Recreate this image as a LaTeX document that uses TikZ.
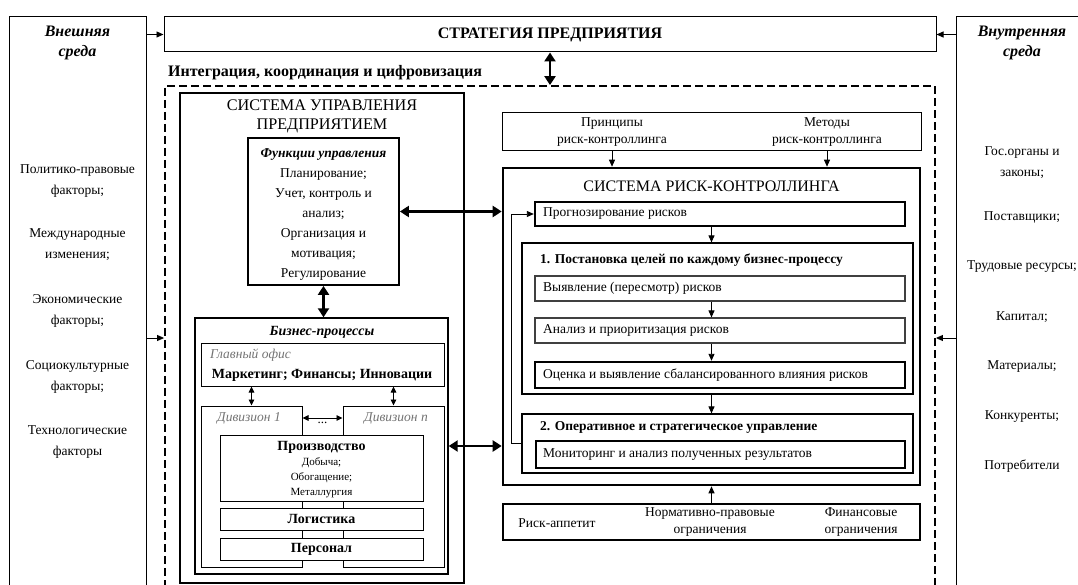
\documentclass[tikz,border=0pt]{standalone}
\usepackage{fontspec}
\setmainfont{Liberation Serif}
\usetikzlibrary{arrows.meta,fit}

\tikzset{
  boxline/.style={draw, inner sep=0pt, line width=#1},
  boxline/.default=1pt,
  txt/.style={inner sep=0pt, align=center, font=\fontsize{13.5}{21}\selectfont},
  ttl/.style={inner sep=0pt, align=center, font=\fontsize{16}{20}\selectfont\bfseries\itshape},
  lft/.style={inner sep=0pt, anchor=west, font=\fontsize{13.5}{16}\selectfont},
  bold/.style={inner sep=0pt, font=\fontsize{14}{16}\selectfont\bfseries},
  greylab/.style={inner sep=0pt, text=black!55, font=\fontsize{13.5}{16}\selectfont\itshape},
  arr/.style={-{Triangle[length=7pt,width=6pt]}, line width=.9pt},
  twotip/.style={{Triangle[length=6pt,width=5.5pt]}-{Triangle[length=6pt,width=5.5pt]}, line width=.9pt},
  fat/.style={{Triangle[length=9pt,width=11pt]}-{Triangle[length=9pt,width=11pt]}, line width=2.4pt},
}

\begin{document}
\begin{tikzpicture}[x=1pt,y=-1pt]
\useasboundingbox (0,0) rectangle (1078,585);
\clip (0,0) rectangle (1078,585);

% environment and strategy
\node[boxline, fit={(9,17) (146,659)}] (ext) {};
\node[boxline, fit={(956,17) (1088,659)}] (int) {};
\node[boxline, fit={(164,17) (936,52)}] (strat) {};
\node[font=\fontsize{16}{18}\selectfont\bfseries, inner sep=0pt] (strattxt) at (550,35) {СТРАТЕГИЯ ПРЕДПРИЯТИЯ};
\node[boxline=1.8pt, dash pattern=on 8pt off 4pt, fit={(165,86) (935,620)}] (integ) {};
\node[lft, font=\fontsize{16}{18}\selectfont\bfseries] (integtxt) at (168,73) {Интеграция, координация и цифровизация};

\node[ttl] (extttl) at (77.5,43) {Внешняя\\среда};
\node[txt] (pol) at (77.5,181) {Политико-правовые\\факторы;};
\node[txt] (intl) at (77.5,245) {Международные\\изменения;};
\node[txt] (econ) at (77.5,311) {Экономические\\факторы;};
\node[txt] (soc) at (77.5,377) {Социокультурные\\факторы;};
\node[txt] (tech) at (77.5,442) {Технологические\\факторы};

\node[ttl] (intttl) at (1022,43) {Внутренняя\\среда};
\node[txt] (gov) at (1022,163) {Гос.органы и\\законы;};
\node[txt] (supp) at (1022,217) {Поставщики;};
\node[txt] (lab) at (1022,267) {Трудовые ресурсы;};
\node[txt] (cap) at (1022,317) {Капитал;};
\node[txt] (mat) at (1022,367) {Материалы;};
\node[txt] (comp) at (1022,417) {Конкуренты;};
\node[txt] (cons) at (1022,466) {Потребители};

\draw[arr] (strat.west -| ext.east) -- (strat.west);
\draw[arr] (strat.east -| int.west) -- (strat.east);
\draw[arr] (ext.east) -- (ext.east -| integ.west);
\draw[arr] (int.west) -- (int.west -| integ.east);
\draw[fat] (strat.south) -- (strat.south |- integ.north);

% management system
\node[boxline=2.6pt, fit={(180,93) (464,583)}] (mgmt) {};
\node[txt, font=\fontsize{16.2}{19}\selectfont] (mgmtttl) at (322,116) {СИСТЕМА УПРАВЛЕНИЯ\\ПРЕДПРИЯТИЕМ};
\node[boxline=1.8pt, fit={(248,138) (399,285)}] (func) {};
\node[txt, font=\fontsize{13.5}{20}\selectfont] (functxt) at (323.5,214.5) {\textbf{\textit{Функции управления}}\\Планирование;\\Учет, контроль и\\анализ;\\Организация и\\мотивация;\\Регулирование};

\node[boxline=1.4pt, fit={(195,318) (448,574)}] (bp) {};
\node[ttl, font=\fontsize{14}{16}\selectfont\bfseries\itshape] (bpttl) at (322,332) {Бизнес-процессы};
\node[boxline, fit={(201,343) (444,386)}] (office) {};
\node[greylab, anchor=west] (officettl) at (210,355) {Главный офис};
\node[bold] (officetxt) at (322,375) {Маркетинг; Финансы; Инновации};
\node[boxline, fit={(201,406) (302,567)}] (div1) {};
\node[boxline, fit={(343,406) (444,567)}] (divn) {};
\node[greylab] (div1ttl) at (249,418) {Дивизион 1};
\node[greylab] (divnttl) at (396,418) {Дивизион n};
\node[boxline, fill=white, fit={(220,435) (423,501)}] (prod) {};
\node[bold] (prodttl) at (321.5,447) {Производство};
\node[txt, font=\fontsize{11}{15}\selectfont] (prodtxt) at (321.5,478) {Добыча;\\Обогащение;\\Металлургия};
\node[boxline, fill=white, fit={(220,508) (423,530)}] (logi) {};
\node[bold] (logitxt) at (logi.center) {Логистика};
\node[boxline, fill=white, fit={(220,538) (423,560)}] (staff) {};
\node[bold] (stafftxt) at (staff.center) {Персонал};

\draw[twotip] (div1.north |- office.south) -- (div1.north);
\draw[twotip] (divn.north |- office.south) -- (divn.north);
\draw[twotip] (div1ttl -| div1.east) -- (div1ttl -| divn.west);
\node[inner sep=0pt, font=\fontsize{13}{15}\selectfont] (dots) at (322.5,423) {...};
\draw[fat] (func.south) -- (func.south |- bp.north);

% risk controlling
\node[boxline, fit={(502,113) (921,151)}] (basis) {};
\node[txt, font=\fontsize{13.5}{17}\selectfont] (princ) at (612,132) {Принципы\\риск-контроллинга};
\node[txt, font=\fontsize{13.5}{17}\selectfont] (meth) at (827,132) {Методы\\риск-контроллинга};
\node[boxline=2.6pt, fit={(503,168) (920,485)}] (risk) {};
\node[txt, font=\fontsize{16}{18}\selectfont] (riskttl) at (711.5,186) {СИСТЕМА РИСК-КОНТРОЛЛИНГА};
\draw[arr] (princ |- basis.south) -- (princ |- risk.north);
\draw[arr] (meth |- basis.south) -- (meth |- risk.north);

\node[boxline=2.4pt, fit={(535,202) (905,226)}] (fcst) {};
\node[lft] (fcsttxt) at (543,214) {Прогнозирование рисков};
\node[boxline=1.2pt, fit={(522,243) (913,394)}] (stage1) {};
\node[lft, font=\fontsize{13.5}{16}\selectfont\bfseries] (stage1ttl) at (540,260) {1. Постановка целей по каждому бизнес-процессу};
\node[boxline=1.2pt, draw=black!75, fit={(535,276) (905,301)}] (ident) {};
\node[lft] (identtxt) at (543,288.5) {Выявление (пересмотр) рисков};
\node[boxline=1.2pt, draw=black!75, fit={(535,318) (905,343)}] (anal) {};
\node[lft] (analtxt) at (543,330.5) {Анализ и приоритизация рисков};
\node[boxline=2.4pt, fit={(535,362) (905,388)}] (eval) {};
\node[lft] (evaltxt) at (543,375) {Оценка и выявление сбалансированного влияния рисков};
\node[boxline=1.2pt, fit={(522,414) (913,473)}] (stage2) {};
\node[lft, font=\fontsize{13.5}{16}\selectfont\bfseries] (stage2ttl) at (540,427) {2. Оперативное и стратегическое управление};
\node[boxline=1.4pt, fit={(536,441) (905,468)}] (mon) {};
\node[lft] (montxt) at (543,454.5) {Мониторинг и анализ полученных результатов};

\draw[arr] (fcst.south -| risk.north) -- (stage1.north -| risk.north);
\draw[arr] (ident.south -| risk.north) -- (anal.north -| risk.north);
\draw[arr] (anal.south -| risk.north) -- (eval.north -| risk.north);
\draw[arr] (stage1.south -| risk.north) -- (stage2.north -| risk.north);
\draw[arr] (stage2.west) -- ++(-10,0) |- (fcst.west);

\node[boxline=1.4pt, fit={(503,504) (920,540)}] (limits) {};
\node[txt] (appetite) at (557,523) {Риск-аппетит};
\node[txt, font=\fontsize{13.5}{17}\selectfont] (legal) at (710,522) {Нормативно-правовые\\ограничения};
\node[txt, font=\fontsize{13.5}{17}\selectfont] (fin) at (861,522) {Финансовые\\ограничения};
\draw[arr] (limits.north) -- (risk.south);

\draw[fat] (func.east) -- (func.east -| risk.west);
\draw[fat] (bp.east) -- (bp.east -| risk.west);

\end{tikzpicture}
\end{document}
